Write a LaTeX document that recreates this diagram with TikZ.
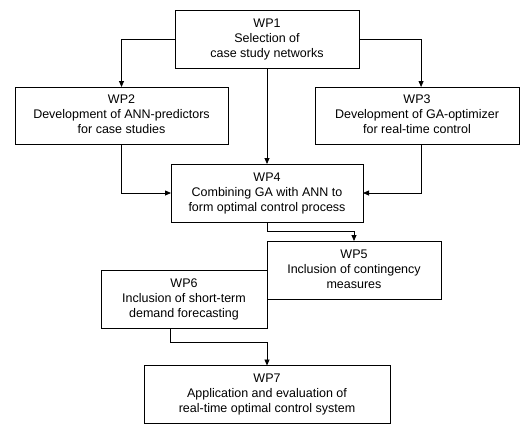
\documentclass[tikz,border=0pt]{standalone}
\usepackage{fontspec}
\setmainfont{Liberation Sans}
\usetikzlibrary{arrows.meta,calc}
\tikzset{
	wpbox/.style={draw, outer sep=0, inner sep=0, line width=0.8pt, font=\fontsize{12.5}{15}\selectfont}
}
\newcommand{\wpk}[2]{\begin{tabular}{c} WP#1\\ #2 \end{tabular}}

\begin{document}
\begin{tikzpicture}[x=1pt, y=-1pt, ->, >={Triangle[length=6pt,width=5pt]}, line width=0.8pt]
				\useasboundingbox (0,0) rectangle (520,424);
				\node[wpbox, minimum width=184pt, minimum height=58pt] (t1) at (267, 39) {\wpk{1}{Selection of\\ case study networks}};
				\node[wpbox, minimum width=213pt, minimum height=57pt] (t2) at (121.5, 115.5) {\wpk{2}{Development of ANN-predictors\\ for case studies}};
				\node[wpbox, minimum width=204pt, minimum height=57pt] (t3) at (417, 115.5) {\wpk{3}{Development of GA-optimizer\\ for real-time control}};
				\node[wpbox, minimum width=192pt, minimum height=58pt] (t4) at (267, 193) {\wpk{4}{Combining GA with ANN to\\ form optimal control process}};
				\node[wpbox, minimum width=174pt, minimum height=58pt] (t5) at (354, 270) {\wpk{5}{Inclusion of contingency\\ measures}};
				\node[wpbox, minimum width=166pt, minimum height=58pt] (t6) at (184, 299) {\wpk{6}{Inclusion of short-term\\ demand forecasting}};
				\node[wpbox, minimum width=246pt, minimum height=58pt] (t7) at (267, 394.5) {\wpk{7}{Application and evaluation of\\ real-time optimal control system}};
				
				\coordinate (t3x) at ($(t3.south west)!0.52!(t3.south east)$);
				\coordinate (t6x) at ($(t6.south west)!0.42!(t6.south east)$);
				
				\draw (t1.west) -| (t2.north);
				\draw (t1.east) -| (t3x |- t3.north);
				\draw (t1.south) -- (t4.north);
				\draw (t2.south) |- (t4.west);
				\draw (t3x) |- (t4.east);
				\draw (t4.south) -- ++(0,9) -| (t5.north);
				\draw (t6x) -- ++(0,14) -| (t7.north);
			\end{tikzpicture}
\end{document}
